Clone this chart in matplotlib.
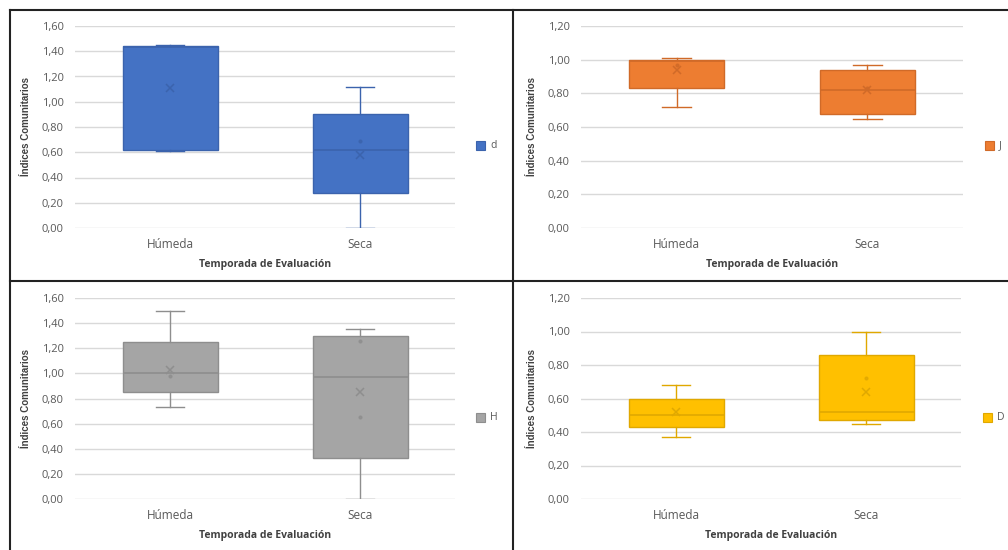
import numpy as np
import matplotlib.pyplot as plt
from matplotlib.lines import Line2D
from matplotlib.patches import Rectangle

##### Data #####

seasons = ['Húmeda', 'Seca']
indices = ['d', 'J', 'H', 'D']

# per index: [Húmeda, Seca]
whislo = {'d': [0.61, 0.00], 'J': [0.72, 0.65], 'H': [0.73, 0.00], 'D': [0.37, 0.45]}
q1 = {'d': [0.62, 0.28], 'J': [0.83, 0.68], 'H': [0.85, 0.33], 'D': [0.43, 0.47]}
med = {'d': [1.43, 0.62], 'J': [0.99, 0.82], 'H': [1.00, 0.97], 'D': [0.50, 0.52]}
q3 = {'d': [1.44, 0.90], 'J': [1.00, 0.94], 'H': [1.25, 1.30], 'D': [0.60, 0.86]}
whishi = {'d': [1.45, 1.12], 'J': [1.01, 0.97], 'H': [1.50, 1.35], 'D': [0.68, 1.00]}
means = {'d': [1.11, 0.58], 'J': [0.94, 0.82], 'H': [1.03, 0.85], 'D': [0.52, 0.64]}
inner = {'d': [[], [0.69]], 'J': [[0.97], [0.83]], 'H': [[0.98], [1.26, 0.65]], 'D': [[], [0.72]]}

ymax = {'d': 1.60, 'J': 1.20, 'H': 1.60, 'D': 1.20}
fills = {'d': '#4472C4', 'J': '#ED7D31', 'H': '#A5A5A5', 'D': '#FFC000'}
edges = {'d': '#3B63AD', 'J': '#D06A28', 'H': '#8E8E8E', 'D': '#E0A800'}

################

W, H = 1008, 550
fig = plt.figure(figsize=(W / 100, H / 100), dpi=100)

# plot areas in pixels: left, top, right, bottom
boxes_px = {'d': (75, 26, 455, 228), 'J': (581, 26, 963, 228),
            'H': (75, 298, 455, 499), 'D': (581, 298, 961, 499)}
tick_font = ['Open Sans', 'DejaVu Sans']
lab_font = ['Liberation Sans Narrow', 'Liberation Sans', 'DejaVu Sans']

def fmt(v):
    return ('%.2f' % v).replace('.', ',')

for key in indices:
    l, t, r, b = boxes_px[key]
    ax = fig.add_axes([l / W, 1 - b / H, (r - l) / W, (b - t) / H])
    stats = []
    for i in range(2):
        stats.append(dict(whislo=whislo[key][i], q1=q1[key][i], med=med[key][i],
                          q3=q3[key][i], whishi=whishi[key][i], mean=means[key][i],
                          fliers=[], label=seasons[i]))
    ec = edges[key]
    ax.bxp(stats, positions=[1, 2], widths=0.5, patch_artist=True, showmeans=True,
           boxprops=dict(facecolor=fills[key], edgecolor=ec, linewidth=1),
           medianprops=dict(color=ec, linewidth=1.2),
           whiskerprops=dict(color=ec, linewidth=1),
           capprops=dict(color=ec, linewidth=1),
           capwidths=0.15,
           meanprops=dict(marker='x', markeredgecolor=ec, markersize=6, markeredgewidth=1.1),
           zorder=3)
    for i in range(2):
        pts = inner[key][i]
        if pts:
            ax.plot([i + 1] * len(pts), pts, 'o', ms=2, color=ec, alpha=0.8, zorder=4)
    ax.set_xlim(0.5, 2.5)
    ax.set_ylim(0, ymax[key])
    yt = np.arange(0, ymax[key] + 0.001, 0.2)
    ax.set_yticks(yt)
    ax.set_yticklabels([fmt(v) for v in yt], fontsize=8, color='#595959', family=tick_font)
    ax.set_xticks([1, 2])
    ax.set_xticklabels(seasons, fontsize=8.5, color='#595959', family=tick_font)
    ax.tick_params(length=0, pad=8)
    ax.tick_params(axis='x', pad=7)
    for s in ax.spines.values():
        s.set_visible(False)
    ax.grid(True, axis='y', color='#D9D9D9', linewidth=1, zorder=0)
    ax.set_axisbelow(True)
    ax.set_xlabel('Temporada de Evaluación', fontsize=7.5, fontweight='bold',
                  color='#404040', family=tick_font, labelpad=6)
    ax.set_ylabel('Índices Comunitarios', fontsize=7, fontweight='bold',
                  color='#404040', family=lab_font, labelpad=8)
    # legend
    lx = r + 21 if key in ('d', 'H') else r + 22
    ly = (t + b) / 2 + 19
    fig.add_artist(Rectangle((lx / W, 1 - (ly + 4) / H), 9 / W, 9 / H,
                             transform=fig.transFigure, facecolor=fills[key],
                             edgecolor=ec, linewidth=0.8))
    fig.text((lx + 14) / W, 1 - ly / H, key, fontsize=7.5, color='#595959',
             va='center', ha='left', family=tick_font)

# panel border lines
lw = 1.5
for xs, ys in [((10, 1008), (10, 10)), ((10, 10), (10, 550)),
               ((513, 513), (10, 550)), ((10, 1008), (281, 281))]:
    fig.add_artist(Line2D([x / W for x in xs], [1 - y / H for y in ys],
                          transform=fig.transFigure, color='#222222', linewidth=lw))

plt.savefig('out.png', dpi=100)
